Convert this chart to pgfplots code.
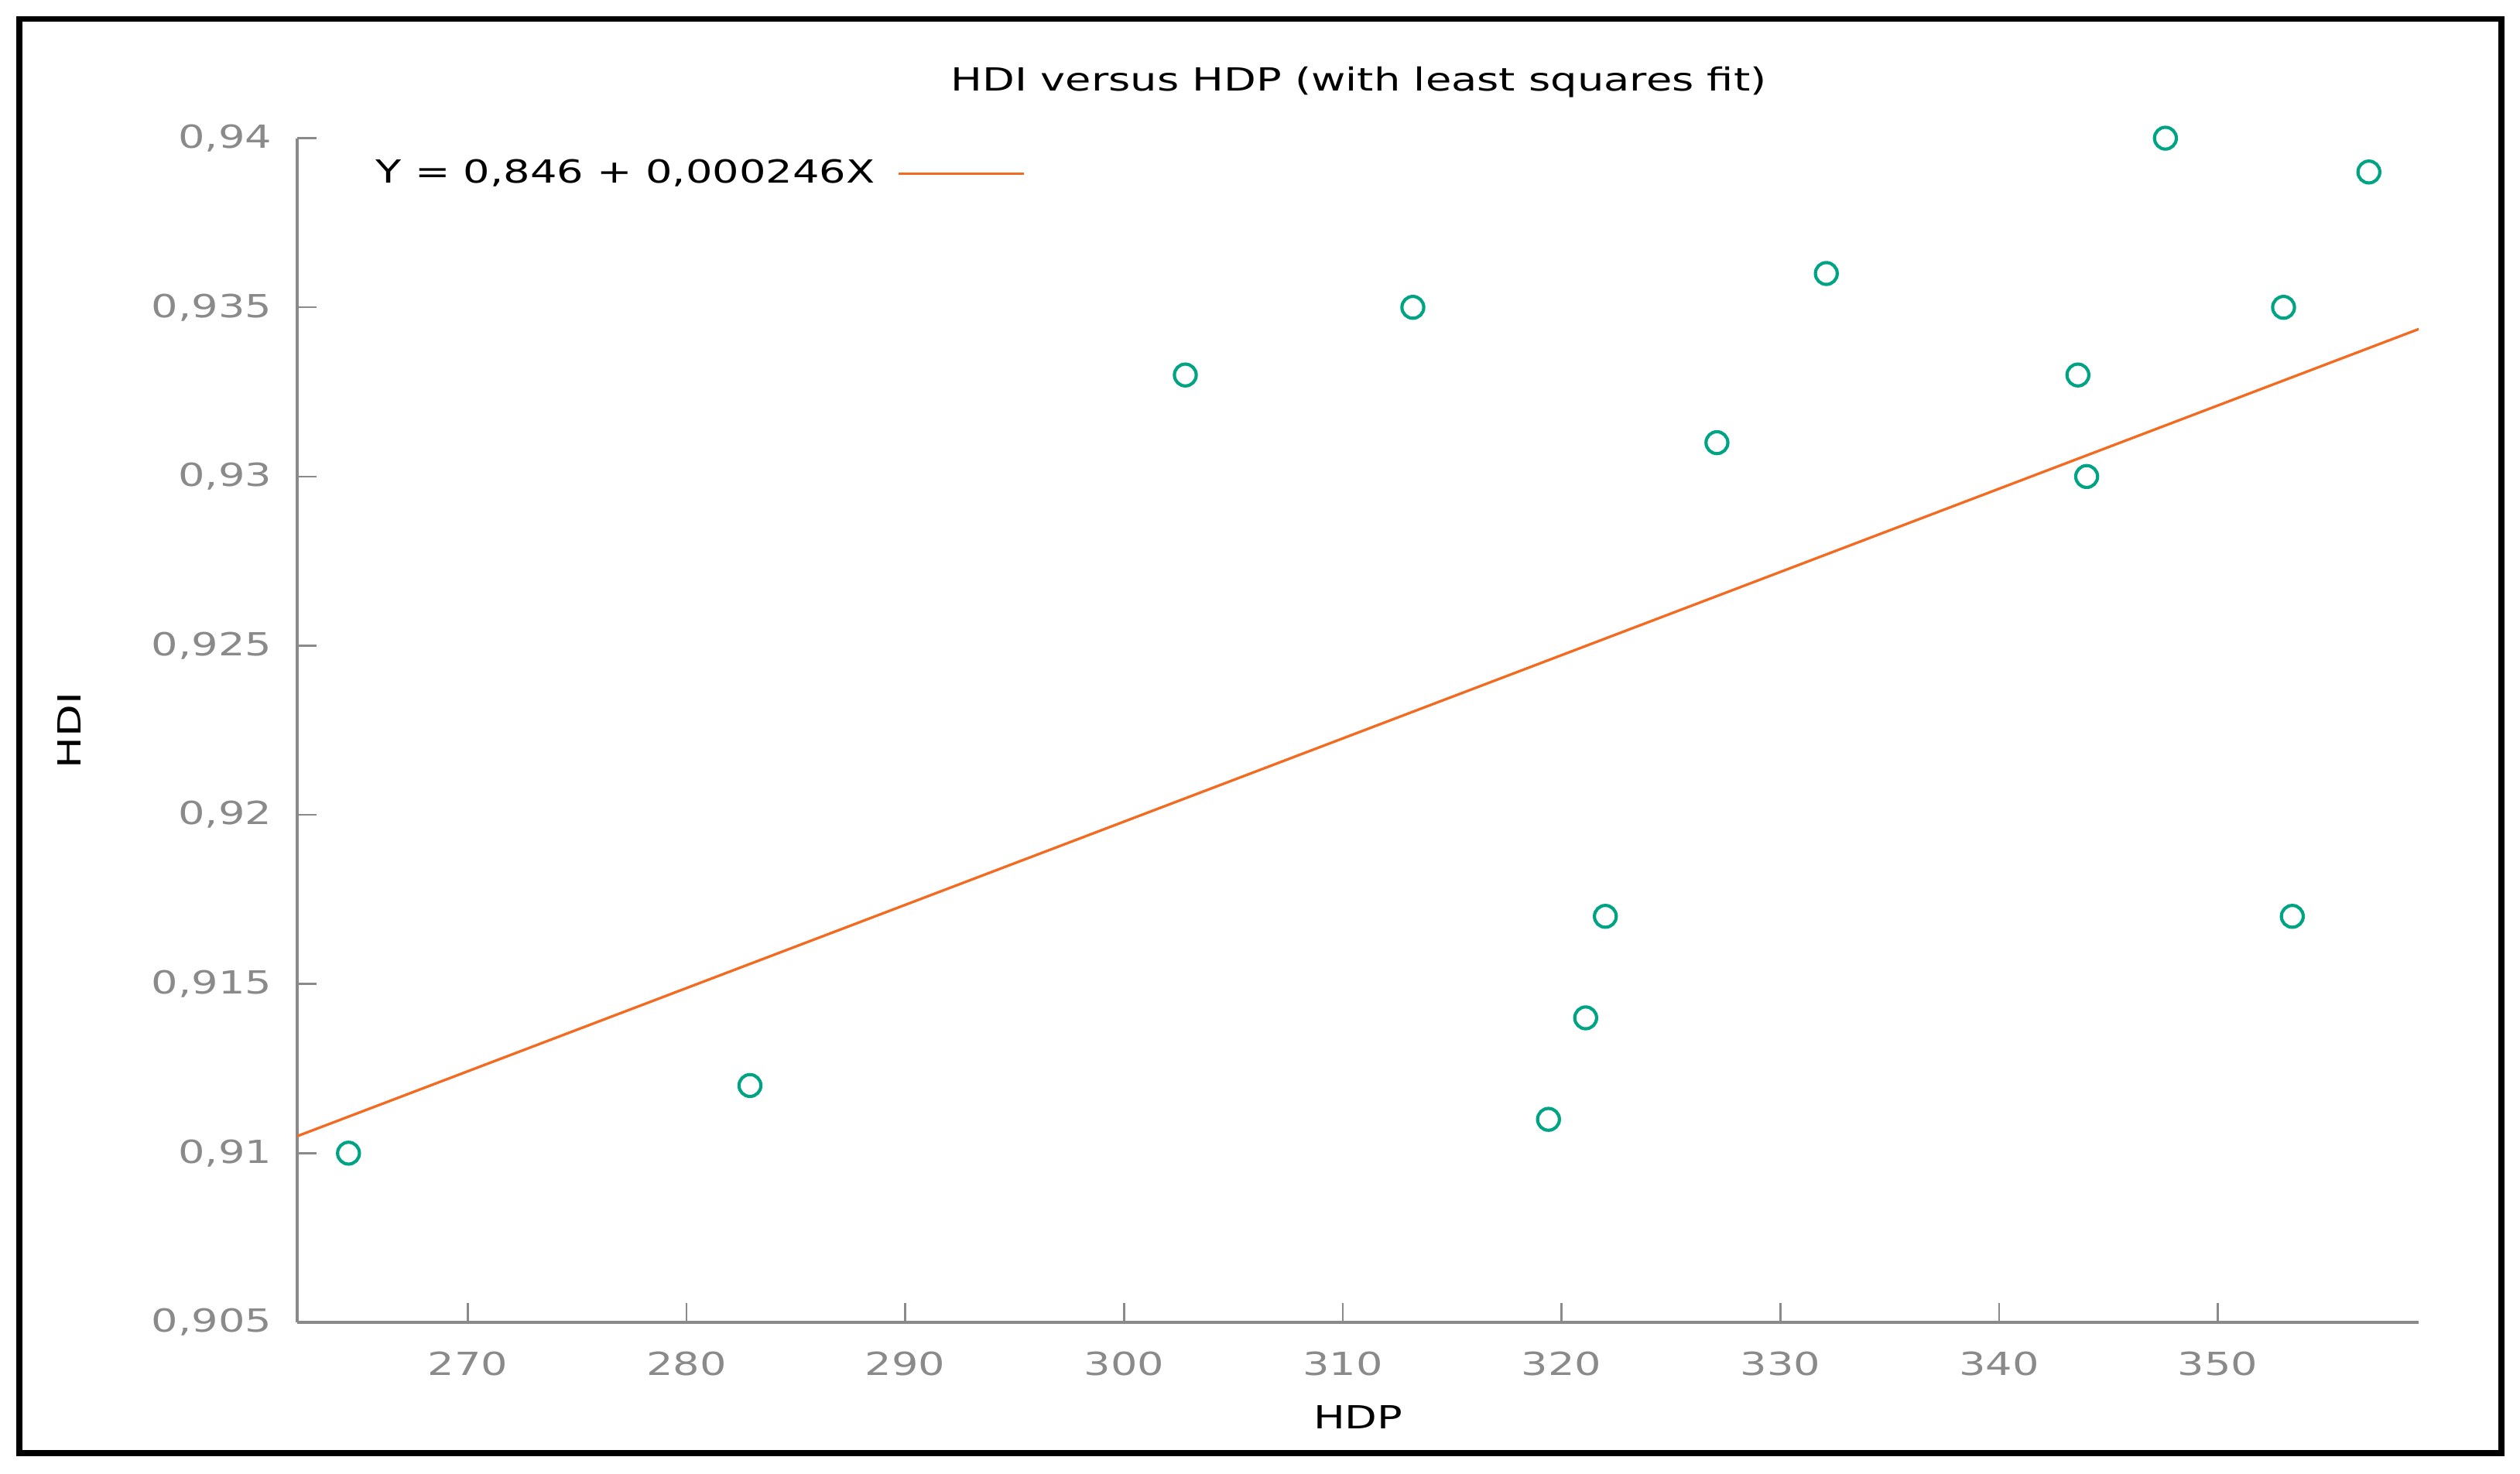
\documentclass[border=0pt]{standalone}
\usepackage{fontspec}
\setmainfont{DejaVu Sans}[FakeStretch=1.32]
\usepackage{pgfplots}
\pgfplotsset{compat=1.18}
\definecolor{ptgreen}{HTML}{00A383}
\definecolor{fitorange}{HTML}{F26B21}
\definecolor{axgray}{HTML}{8A8A8A}
\newcommand{\chartfont}{\fontsize{9.9}{12}\selectfont}
\pgfplotsset{fitlegend/.style={legend image code/.code={\draw[##1] (0pt,0pt) -- (39pt,0pt);}}}
\begin{document}
\begin{tikzpicture}
\path[use as bounding box] (0,0) rectangle (784pt,458.5pt);
\draw[line width=1.8pt] (6pt,6.25pt) rectangle (778.25pt,452.65pt);
\node[font=\chartfont, anchor=base west, inner sep=0pt] at (295.7pt,430.1pt) {HDI versus HDP (with least squares fit)};
\begin{axis}[
  at={(92.5pt,47pt)}, anchor=south west,
  scale only axis, width=660pt, height=368.5pt,
  xmin=262.21, xmax=359.18, ymin=0.905, ymax=0.94,
  axis lines*=left,
  axis line style={axgray, line width=1pt},
  xtick={270,280,290,300,310,320,330,340,350},
  ytick={0.905,0.91,0.915,0.92,0.925,0.93,0.935,0.94},
  tick align=inside, major tick length=6pt,
  tick style={axgray, line width=0.6pt},
  ticklabel style={font=\chartfont, text=axgray},
  /pgf/number format/assume math mode=true,
  /pgf/number format/use comma,
  /pgf/number format/fixed,
  /pgf/number format/precision=3,
  /pgf/number format/1000 sep={},
  xticklabel style={anchor=center, yshift=-13pt},
  yticklabel style={anchor=east, xshift=-4.4pt},
  xlabel={HDP}, ylabel={HDI},
  xlabel style={at={(axis description cs:0.5,-0.08)}, anchor=center, font=\chartfont},
  ylabel style={at={(axis description cs:-0.1076,0.5)}, anchor=center, font=\chartfont},
  fitlegend,
  legend plot pos=right,
  legend style={at={(axis description cs:0.0371,0.9701)}, anchor=west, draw=none, fill=none,
    inner sep=0pt, outer sep=0pt, nodes={inner sep=0pt, font=\chartfont, text=black}},
]
\addplot[fitorange, line width=0.8pt]
  coordinates {(262.21,0.910504) (359.18,0.934358)};
\addlegendentry{Y = 0,846 + 0,000246X\hspace*{7pt}}
\addplot[only marks, mark=o, mark size=3.4pt, ptgreen, line width=1pt, forget plot]
  coordinates {
  (264.55,0.910) (282.9,0.912) (302.8,0.933) (313.2,0.935) (319.4,0.911)
  (321.1,0.914) (322.0,0.917) (327.1,0.931) (332.1,0.936) (343.6,0.933)
  (344.0,0.930) (347.6,0.940) (353.0,0.935) (353.4,0.917) (356.9,0.939)
  };
\end{axis}
\end{tikzpicture}
\end{document}
